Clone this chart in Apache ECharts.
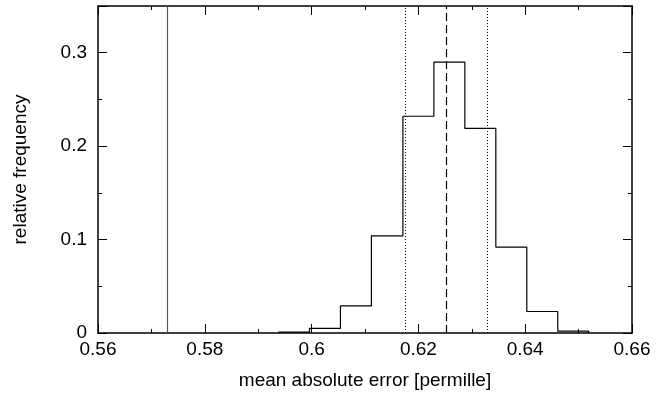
<!DOCTYPE html>
<html>
<head>
<meta charset="utf-8">
<script src="https://cdn.jsdelivr.net/npm/echarts@6/dist/echarts.min.js"></script>
<style>html,body{margin:0;padding:0;background:#fff;}#c{width:666px;height:395px;}</style>
</head>
<body>
<div id="c"></div>
<script>
// histogram bin edges (left edges + final right edge)
var binEdges = [0.5938, 0.5996, 0.6054, 0.6112, 0.6171, 0.6229, 0.6287, 0.6345, 0.6403, 0.6461, 0.6519];
// relative frequency per bin
var binFreq = [0.001, 0.005, 0.029, 0.104, 0.232, 0.290, 0.219, 0.092, 0.023, 0.002];
// reference vertical lines
var solidLine = [0.5729];
var dashedLine = [0.6252];
var dottedLines = [0.6175, 0.6329];
var xTicks = [0.56, 0.58, 0.6, 0.62, 0.64, 0.66];
var yTicks = [0, 0.1, 0.2, 0.3];

var histData = [];
for (var i = 0; i < binFreq.length; i++) histData.push([binEdges[i], binFreq[i]]);
histData.push([binEdges[binEdges.length - 1], 0]);

var font = '"Liberation Sans", Arial, sans-serif';
var axisCommon = {
  type: 'value',
  axisLine: { show: true, onZero: false, lineStyle: { color: '#000', width: 1.5 } },
  axisTick: { show: true, inside: true, length: 9, lineStyle: { color: '#000', width: 1 } },
  minorTick: { show: true, splitNumber: 2, length: 4, lineStyle: { color: '#000', width: 1 } },
  splitLine: { show: false }
};

function mk(o) { return Object.assign({}, JSON.parse(JSON.stringify(axisCommon)), o); }

var chart = echarts.init(document.getElementById('c'), null, { renderer: 'canvas' });
chart.setOption({
  animation: false,
  backgroundColor: '#fff',
  grid: { left: 98, right: 34, top: 6, bottom: 60 },
  xAxis: [
    mk({ position: 'bottom', min: 0.56, max: 0.66, interval: 0.02,
      name: 'mean absolute error [permille]', nameLocation: 'middle', nameGap: 38,
      nameTextStyle: { fontFamily: font, fontSize: 19, color: '#000' },
      axisLabel: { show: true, margin: 7, fontFamily: font, fontSize: 19, color: '#000',
        formatter: function (v) { return xTicks.indexOf(+v.toFixed(2)) >= 0 ? String(+v.toFixed(2)) : ''; } } }),
    mk({ position: 'top', min: 0.56, max: 0.66, interval: 0.02, axisLabel: { show: false } })
  ],
  yAxis: [
    mk({ position: 'left', min: 0, max: 0.35, interval: 0.1,
      name: 'relative frequency', nameLocation: 'middle', nameGap: 68, nameRotate: 90,
      nameTextStyle: { fontFamily: font, fontSize: 19, color: '#000' },
      axisLabel: { show: true, margin: 11, fontFamily: font, fontSize: 19, color: '#000',
        formatter: function (v) { return yTicks.indexOf(+v.toFixed(2)) >= 0 ? String(+v.toFixed(1)) : ''; } } }),
    mk({ position: 'right', min: 0, max: 0.35, interval: 0.1, axisLabel: { show: false } })
  ],
  series: [
    {
      type: 'line', step: 'end', data: histData, symbol: 'none',
      lineStyle: { color: '#000', width: 1.2 },
      markLine: {
        silent: true, precision: 5, symbol: ['none', 'none'], label: { show: false },
        data: [
          { xAxis: solidLine[0], lineStyle: { color: '#555', type: 'solid', width: 1.2 } },
          { xAxis: dashedLine[0], lineStyle: { color: '#000', type: [8, 4], width: 1.2 } },
          { xAxis: dottedLines[0], lineStyle: { color: '#000', type: [1, 2], width: 1 } },
          { xAxis: dottedLines[1], lineStyle: { color: '#000', type: [1, 2], width: 1 } }
        ]
      }
    }
  ]
});
</script>
</body>
</html>
